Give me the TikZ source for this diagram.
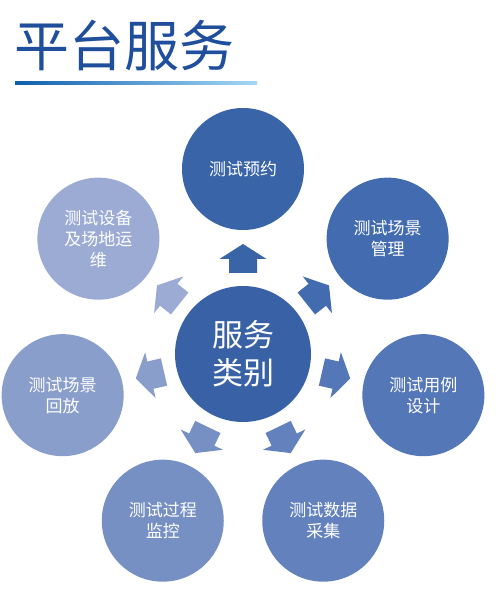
\documentclass[tikz,border=0pt]{standalone}
\usepackage{fontspec}
\setmainfont{Noto Sans CJK SC}
\definecolor{ttl}{HTML}{1F4E9C}
\definecolor{lnl}{HTML}{0F5EAE}
\definecolor{lnr}{HTML}{A6D8F5}
\definecolor{hubc}{HTML}{3962A6}
\definecolor{s1}{HTML}{3A64A8}
\definecolor{s2}{HTML}{426BB0}
\definecolor{s3}{HTML}{5477B8}
\definecolor{s4}{HTML}{6382BD}
\definecolor{s5}{HTML}{7790C4}
\definecolor{s6}{HTML}{8A9ECB}
\definecolor{s7}{HTML}{9BABD3}

\begin{document}
\begin{tikzpicture}[x=1pt,y=1pt,
		srv/.style={circle, minimum size=122pt, inner sep=0pt, text=white, align=center, font=\fontsize{17}{21}\selectfont},
		hub/.style={circle, minimum size=136pt, inner sep=0pt, text=white, align=center, font=\fontsize{31}{38}\selectfont}]
		\useasboundingbox (0,0) rectangle (498,593);
		%%%%%%%%%%%%%
		\node[anchor=west, inner sep=0pt, text=ttl, font=\fontsize{55}{55}\selectfont] (title) at (14,547) {平台服务};
		\shade[left color=lnl, right color=lnr] (15,508.5) rectangle (257,511);
		%%%%%%%%%%%%%
		\node[hub, fill=hubc] (cat) at (243,239) {服务\\类别};
		\path (cat) ++(90:185) node[srv, fill=s1] (a) {测试预约};
		\path (cat) ++(38.57:185) node[srv, fill=s2] (b) {测试场景\\管理};
		\path (cat) ++(-12.86:185) node[srv, fill=s3] (c) {测试用例\\设计};
		\path (cat) ++(-64.29:185) node[srv, fill=s4] (d) {测试数据\\采集};
		\path (cat) ++(-115.71:185) node[srv, fill=s5] (e) {测试过程\\监控};
		\path (cat) ++(-167.14:185) node[srv, fill=s6] (f) {测试场景\\回放};
		\path (cat) ++(141.43:185) node[srv, fill=s7] (g) {测试设备\\及场地运\\维};
		%%%%%%%%%%%%%
		\foreach \ang/\col in {90/s1, 38.57/s2, -12.86/s3, -64.29/s4, -115.71/s5, -167.14/s6, 141.43/s7}
			\fill[\col, shift={(cat.center)}, rotate=\ang] (81,-14) -- (95,-14) -- (95,-23.5) -- (110,0) -- (95,23.5) -- (95,14) -- (81,14) -- cycle;
	\end{tikzpicture}
\end{document}
